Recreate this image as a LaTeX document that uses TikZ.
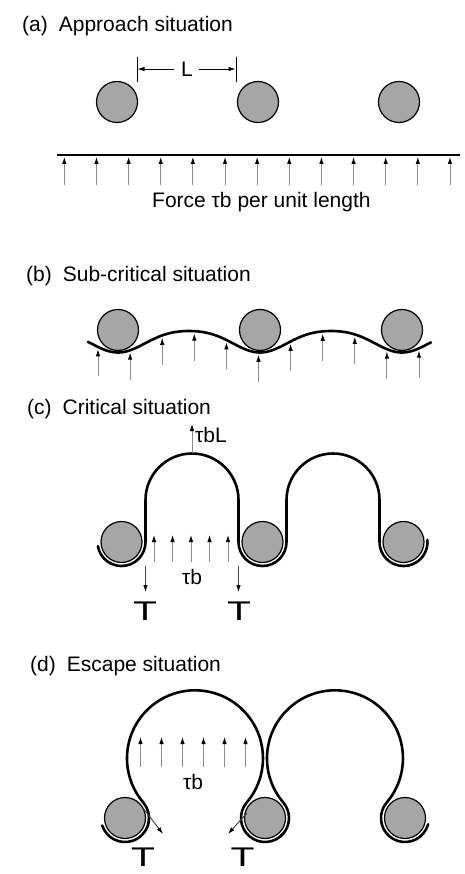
\documentclass[tikz,border=0pt]{standalone}
\usepackage{fontspec}
\setmainfont{Liberation Sans}
\usetikzlibrary{arrows.meta,calc}
\begin{document}
\begin{tikzpicture}[x=1pt,y=1pt,
  obst/.style={circle, draw=black, line width=1.2pt, fill=black!35, minimum size=41pt, inner sep=0pt},
  disl/.style={line width=2.6pt, line cap=round},
  force/.style={draw=black!45, line width=0.9pt, -{Latex[length=7pt,width=4.5pt,black]}},
  tens/.style={draw=black!75, line width=0.9pt, -{Latex[length=7pt,width=4.5pt,black]}},
  dimarrow/.style={draw=black, line width=0.8pt, -{Latex[length=7pt,width=4.5pt]}},
  tick/.style={draw=black, line width=1pt},
  ttl/.style={anchor=base west, font=\fontsize{21}{25}\selectfont, inner sep=0pt},
  lbl/.style={font=\fontsize{21}{25}\selectfont, inner sep=0pt},
  bigT/.style={anchor=base, font=\fontsize{27}{29}\selectfont, inner sep=0pt},
]
\useasboundingbox (0,0) rectangle (465,-874);
\fill[white] (0,0) rectangle (465,-874);

% ---------------- (a) ----------------
\node[ttl] (ta) at (22,-31.5) {(a)\hspace{11pt}Approach situation};
\node[obst] (a1) at (117,-102) {};
\node[obst] (a2) at (258,-102) {};
\node[obst] (a3) at (399,-102) {};
\coordinate (dl1) at (137,-57); \coordinate (dl2) at (137,-82);
\coordinate (dr1) at (236,-57); \coordinate (dr2) at (236,-82);
\draw[tick] (dl1) -- (dl2);
\draw[tick] (dr1) -- (dr2);
\node[lbl] (Ltxt) at (187,-69) {L};
\coordinate (la) at (174,-69); \coordinate (lb) at (137.5,-69);
\coordinate (ra) at (199,-69); \coordinate (rb) at (235.5,-69);
\draw[dimarrow] (la) -- (lb);
\draw[dimarrow] (ra) -- (rb);
\coordinate (aL) at (57,-155); \coordinate (aR) at (460,-155);
\draw[line width=2.8pt] (aL) -- (aR);
\foreach \i in {0,...,12} {
  \pgfmathsetmacro\xx{64.3+32.14*\i}
  \coordinate (af\i) at (\xx,-185);
  \coordinate (at\i) at (\xx,-157);
  \draw[force] (af\i) -- (at\i);
}
\node[lbl, anchor=base west] (fa) at (152,-207.5) {Force τb per unit length};

% ---------------- (b) ----------------
\node[ttl] (tb) at (26,-281) {(b)\hspace{11pt}Sub-critical situation};
\node[obst] (b1) at (118,-330) {};
\node[obst] (b2) at (260,-330) {};
\node[obst] (b3) at (402,-330) {};
\draw[disl] plot[domain=88:431, samples=160, smooth]
  (\x, {-(331+21.5*(0.5*((1+cos(2.53521*(\x-118)))/2)+0.5*((1+cos(2.53521*(\x-118)))/2)^2))});
\foreach \i in {0,...,10} {
  \pgfmathsetmacro\xx{98+32.1*\i}
  \pgfmathsetmacro\hh{(1+cos(2.53521*(\xx-118)))/2}
  \pgfmathsetmacro\yy{331+21.5*(0.5*\hh+0.5*\hh*\hh)+2.4}
  \coordinate (bt\i) at (\xx,-\yy);
  \coordinate (bf\i) at (\xx,-\yy-27);
  \draw[force] (bf\i) -- (bt\i);
}

% ---------------- (c) ----------------
\node[ttl] (tc) at (27,-414) {(c)\hspace{11pt}Critical situation};
\node[obst] (c1) at (121.5,-542) {};
\node[obst] (c2) at (262.5,-542) {};
\node[obst] (c3) at (403.5,-542) {};
\draw[disl] ($(c1.center)+(190:24)$) arc[start angle=190,end angle=360,radius=24]
  -- ++(0,42) arc[start angle=180,end angle=0,radius=46.5]
  -- ++(0,-42) arc[start angle=180,end angle=360,radius=24]
  -- ++(0,42) arc[start angle=180,end angle=0,radius=46.5]
  -- ++(0,-42) arc[start angle=180,end angle=365,radius=24];
\coordinate (cbase) at (192,-453);
\coordinate (ctip) at (192,-424);
\draw[force] (cbase) -- (ctip);
\node[lbl, anchor=west] (tbl) at (195,-435) {τbL};
\foreach \i in {0,...,4} {
  \pgfmathsetmacro\xx{154+18.5*\i}
  \coordinate (cf\i) at (\xx,-562);
  \coordinate (ct\i) at (\xx,-535);
  \draw[force] (cf\i) -- (ct\i);
}
\node[lbl] (ctb) at (192,-577) {τb};
\coordinate (cd1a) at (145.5,-566); \coordinate (cd1b) at (145.5,-592);
\coordinate (cd2a) at (238.5,-566); \coordinate (cd2b) at (238.5,-592);
\draw[tens] (cd1a) -- (cd1b);
\draw[tens] (cd2a) -- (cd2b);
\node[bigT] (cT1) at (145,-620) {\scalebox{1.45}[1]{T}};
\node[bigT] (cT2) at (239,-620) {\scalebox{1.45}[1]{T}};

% ---------------- (d) ----------------
\node[ttl] (td) at (30,-671.5) {(d)\hspace{11pt}Escape situation};
\node[obst] (d1) at (125,-818) {};
\node[obst] (d2) at (265,-818) {};
\node[obst] (d3) at (405,-818) {};
\draw[disl] ($(d1.center)+(-162:24)$) arc[start angle=-162,end angle=40.46,radius=24]
  arc[start angle=220.46,end angle=-40.46,radius=68]
  arc[start angle=139.54,end angle=400.46,radius=24]
  arc[start angle=220.46,end angle=-40.46,radius=68]
  arc[start angle=139.54,end angle=345,radius=24];
\foreach \i in {0,...,5} {
  \pgfmathsetmacro\xx{140.5+21*\i}
  \coordinate (df\i) at (\xx,-767);
  \coordinate (dt\i) at (\xx,-737);
  \draw[force] (df\i) -- (dt\i);
}
\node[lbl] (dtb) at (193,-782) {τb};
\coordinate (de1a) at (143,-808); \coordinate (de1b) at (163,-834);
\coordinate (de2a) at (247,-813); \coordinate (de2b) at (228,-834);
\draw[tens] (de1a) -- (de1b);
\draw[tens] (de2a) -- (de2b);
\node[bigT] (dT1) at (143,-866) {\scalebox{1.45}[1]{T}};
\node[bigT] (dT2) at (242.5,-866) {\scalebox{1.45}[1]{T}};
\end{tikzpicture}
\end{document}
